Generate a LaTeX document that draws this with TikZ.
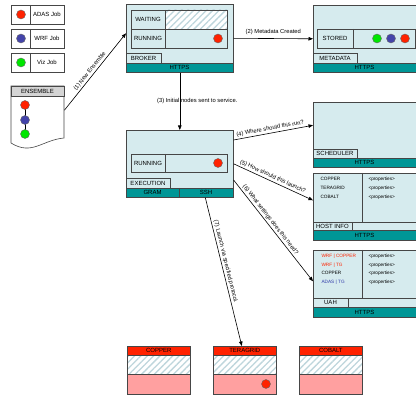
\documentclass[tikz,border=0pt]{standalone}
\usepackage{fontspec}
\setmainfont{Liberation Sans}
\usepackage{xcolor}
\usetikzlibrary{arrows.meta,patterns.meta}

\definecolor{panelcol}{RGB}{214,235,238}
\definecolor{barcol}{RGB}{0,150,150}
\definecolor{edgecol}{RGB}{70,70,70}
\definecolor{hatchcol}{RGB}{190,214,220}
\definecolor{redcol}{RGB}{255,34,0}
\definecolor{pinkcol}{RGB}{255,160,160}
\definecolor{bluecol}{RGB}{68,68,170}
\definecolor{greencol}{RGB}{0,230,0}
\definecolor{hdrgray}{RGB}{212,212,212}
\definecolor{adasblue}{RGB}{50,60,170}

\newcommand{\smtxt}{\fontsize{4.7}{5}\selectfont}

\begin{document}
\begin{tikzpicture}[x=1pt,y=-1pt,font=\fontsize{6}{7}\selectfont,
    box/.style={draw=edgecol,line width=0.6pt},
    panel/.style={draw=edgecol,fill=panelcol,line width=0.6pt,anchor=north west,inner sep=0pt},
    hatched/.style={pattern={Lines[angle=45,distance=4.5pt,line width=1.3pt]},pattern color=hatchcol},
    dot/.style={circle,draw=black!60,line width=0.4pt,minimum size=9pt,inner sep=0pt},
    arr/.style={-{Triangle[length=4.5pt,width=3.5pt]},line width=0.6pt},
    arrlbl/.style={inner sep=1.5pt,font=\fontsize{5.8}{6.5}\selectfont}]
    \useasboundingbox (0,0) rectangle (416,395);
    \clip (0,0) rectangle (416,395);

    % Legend
    \draw[box,fill=white] (11,5) rectangle (64,24);
    \draw[box] (30,5) -- (30,24);
    \node[dot,fill=redcol] (adasdot) at (21,14.5) {};
    \node (adaslbl) at (47,14.5) {ADAS Job};

    \draw[box,fill=white] (11,29) rectangle (64,48);
    \draw[box] (30,29) -- (30,48);
    \node[dot,fill=bluecol] (wrfdot) at (21,38.5) {};
    \node (wrflbl) at (47,38.5) {WRF Job};

    \draw[box,fill=white] (11,53) rectangle (64,72);
    \draw[box] (30,53) -- (30,72);
    \node[dot,fill=greencol] (vizdot) at (21,62.5) {};
    \node (vizlbl) at (47,62.5) {Viz Job};

    % Ensemble
    \node[inner sep=0pt,minimum width=53pt,minimum height=52pt,anchor=north west] (ensemble) at (11,86) {};
    \draw[box,fill=white] (11,86) -- (64,86) -- (64,138)
        .. controls (42,140) and (32,156) .. (11,143) -- cycle;
    \draw[box,fill=hdrgray] (11,86) rectangle (64,96);
    \node (enslbl) at (37.5,91) {ENSEMBLE};
    \draw[line width=0.6pt] (25,105) -- (25,134);
    \node[dot,fill=redcol] (ensred) at (25,105) {};
    \node[dot,fill=bluecol] (ensblue) at (25,120) {};
    \node[dot,fill=greencol] (ensgreen) at (25,134) {};

    % Broker
    \node[panel,minimum width=107pt,minimum height=68pt] (broker) at (126,4) {};
    \fill[white] (165,10) rectangle (227,29);
    \fill[hatched] (165,10) rectangle (227,29);
    \draw[box] (131,10) rectangle (227,48);
    \draw[box] (131,29) -- (227,29);
    \draw[box] (165,10) -- (165,48);
    \node (brkwait) at (148,19.5) {WAITING};
    \node (brkrun) at (148,38.5) {RUNNING};
    \node[dot,fill=redcol] (brkdot) at (218,38.5) {};
    \draw[box,fill=panelcol] (126,53) rectangle (161,63);
    \node (brktab) at (143.5,58) {BROKER};
    \draw[box,fill=barcol] (126,63) rectangle (233,72);
    \node (brkbar) at (179.5,67.5) {HTTPS};

    % Metadata
    \node[panel,minimum width=112pt,minimum height=67pt] (metadata) at (313,5) {};
    \draw[box] (317,29) rectangle (415,48);
    \draw[box] (353,29) -- (353,48);
    \node (mdstored) at (335,38.5) {STORED};
    \node[dot,fill=greencol] (mdgreen) at (377,38.5) {};
    \node[dot,fill=bluecol] (mdblue) at (391,38.5) {};
    \node[dot,fill=redcol] (mdred) at (405,38.5) {};
    \draw[box,fill=panelcol] (313,53) rectangle (357,63);
    \node (mdtab) at (335,58) {METADATA};
    \draw[box,fill=barcol] (313,63) rectangle (425,72);
    \node (mdbar) at (364.5,67.5) {HTTPS};

    % Execution
    \node[panel,minimum width=107pt,minimum height=67pt] (exec) at (126,130) {};
    \draw[box] (131,154) rectangle (227,172);
    \draw[box] (165,154) -- (165,172);
    \node (exrun) at (148,163) {RUNNING};
    \node[dot,fill=redcol] (exdot) at (218,163) {};
    \draw[box,fill=panelcol] (126,178) rectangle (170,188);
    \node (extab) at (148,183) {EXECUTION};
    \draw[box,fill=barcol] (126,188) rectangle (233,197);
    \draw[box] (179.5,188) -- (179.5,197);
    \node (exgram) at (152.5,192.5) {GRAM};
    \node (exssh) at (206,192.5) {SSH};

    % Scheduler
    \node[panel,minimum width=112pt,minimum height=65pt] (sched) at (313,102) {};
    \draw[box,fill=panelcol] (313,149) rectangle (357,158);
    \node (schtab) at (335,153.5) {SCHEDULER};
    \draw[box,fill=barcol] (313,158) rectangle (425,167);
    \node (schbar) at (364.5,162.5) {HTTPS};

    % Host info
    \node[panel,minimum width=112pt,minimum height=67pt] (hostinfo) at (313,173) {};
    \draw[box] (362,173) -- (362,222);
    \draw[box] (313,222) -- (425,222);
    \node[anchor=west,font=\smtxt] (hicopper) at (317,179) {COPPER};
    \node[anchor=west,font=\smtxt] (hitera) at (317,188) {TERAGRID};
    \node[anchor=west,font=\smtxt] (hicobalt) at (317,197) {COBALT};
    \foreach \y in {179,188,197}
        \node[anchor=west,font=\smtxt] at (365,\y) {<properties>};
    \draw[box,fill=panelcol] (313,222) rectangle (352,230);
    \node (hitab) at (332.5,226) {HOST INFO};
    \draw[box,fill=barcol] (313,230) rectangle (425,240);
    \node (hibar) at (364.5,235) {HTTPS};

    % UAH
    \node[panel,minimum width=112pt,minimum height=67pt] (uah) at (313,250) {};
    \draw[box] (362,250) -- (362,298);
    \draw[box] (313,298) -- (425,298);
    \node[anchor=west,font=\smtxt,text=redcol] (uah1) at (318,256) {WRF | COPPER};
    \node[anchor=west,font=\smtxt,text=redcol] (uah2) at (318,265) {WRF | TG};
    \node[anchor=west,font=\smtxt] (uah3) at (318,273) {COPPER};
    \node[anchor=west,font=\smtxt,text=adasblue] (uah4) at (318,282) {ADAS | TG};
    \foreach \y in {256,265,273,282}
        \node[anchor=west,font=\smtxt] at (365,\y) {<properties>};
    \draw[box,fill=panelcol] (313,298) rectangle (348,307);
    \node (uahtab) at (330.5,302.5) {UAH};
    \draw[box,fill=barcol] (313,307) rectangle (425,317);
    \node (uahbar) at (364.5,312) {HTTPS};

    % Sites
    \foreach \x/\nm in {127/COPPER,213/TERAGRID,299/COBALT}{
        \fill[white] (\x,355) rectangle ++(63,19);
        \fill[hatched] (\x,355) rectangle ++(63,19);
        \fill[pinkcol] (\x,374) rectangle ++(63,20);
        \node[draw=edgecol,fill=redcol,line width=0.6pt,minimum width=63pt,minimum height=9pt,
            inner sep=0pt,anchor=north west] (\nm) at (\x,346) {\nm};
        \draw[box] (\x,346) rectangle ++(63,48);
        \draw[box] (\x,374) -- ++(63,0);
    }
    \node[dot,fill=redcol] (tgdot) at (266,384) {};

    % Arrows
    \draw[arr] ([yshift=2pt]ensemble.east) -- ([yshift=5pt]broker.west)
        node[arrlbl,pos=0.47,above,sloped] (lbl1) {(1) New Ensemble};
    \draw[arr] (broker.east) -- (metadata.west)
        node[arrlbl,midway,above,yshift=2pt] (lbl2) {(2) Metadata Created};
    \draw[arr] (broker.south) -- (exec.north)
        node[arrlbl,midway,xshift=17.5pt] (lbl3) {(3) Initial nodes sent to service.};
    \draw[arr] ([yshift=-10pt]exec.north east) -- ([yshift=9.5pt]sched.west)
        node[arrlbl,pos=0.47,above,sloped] (lbl4) {(4) Where should this run?};
    \draw[arr] (exec.east) -- ([yshift=6.5pt]hostinfo.west)
        node[arrlbl,pos=0.47,above,sloped] (lbl5) {(5) How should this launch?};
    \draw[arr] ([yshift=-50pt]exec.north east) -- ([yshift=2.5pt]uah.west)
        node[arrlbl,pos=0.42,above,sloped] (lbl6) {(6) What settings does this need?};
    \draw[arr] ([xshift=25.5pt]exec.south) -- ([xshift=-3pt]TERAGRID.north)
        node[arrlbl,pos=0.44,above,sloped] (lbl7) {(7) Launch via specified protocol.};
\end{tikzpicture}
\end{document}
